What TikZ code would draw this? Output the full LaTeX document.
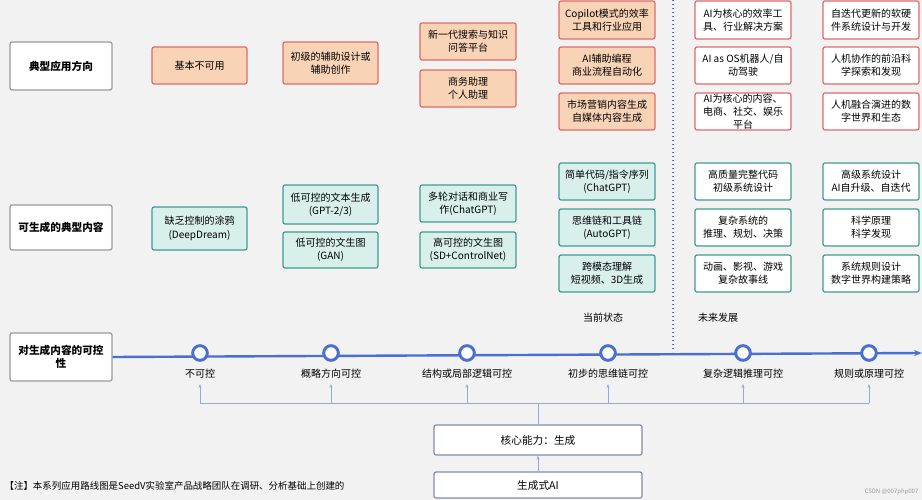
\documentclass[tikz,border=0pt]{standalone}
\usepackage{fontspec}
\setmainfont{Noto Sans CJK SC}
\usetikzlibrary{arrows.meta}
\definecolor{bg}{HTML}{F2F2F2}
\definecolor{og}{HTML}{F8D3B6}
\definecolor{rd}{HTML}{E06A6A}
\definecolor{tl}{HTML}{D8EFEC}
\definecolor{tb}{HTML}{3E9C92}
\definecolor{bl}{HTML}{4A6FD0}
\definecolor{gr}{HTML}{9A9A9A}
\begin{document}
\begin{tikzpicture}[x=0.75pt,y=-0.75pt,
 bx/.style={draw,rounded corners=1.5pt,line width=0.9pt,align=center,inner sep=0pt,font=\fontsize{7.5}{10}\selectfont},
 ob/.style={bx,fill=og,draw=rd},
 wr/.style={bx,fill=white,draw=rd},
 tt/.style={bx,fill=tl,draw=tb},
 wt/.style={bx,fill=white,draw=tb},
 lb/.style={bx,fill=white,draw=gr,font=\fontsize{8}{10}\selectfont\bfseries},
 cb/.style={bx,fill=white,draw=gr!70!bl,font=\fontsize{8}{10}\selectfont},
 ms/.style={circle,draw=bl,fill=white,line width=2.2pt,minimum size=11pt,inner sep=0pt},
 tx/.style={font=\fontsize{7.5}{10}\selectfont,inner sep=1pt},
 ar/.style={-{Stealth[length=3pt]},draw=bl!60,line width=0.5pt}]
\fill[bg] (0,0) rectangle (922,500);
\useasboundingbox (0,0) rectangle (922,500);
\def\B#1#2#3#4#5#6#7{\node[#2,minimum width={(#5-#3)*0.75pt},minimum height={(#6-#4)*0.75pt}] (#1) at ({(#3+#5)/2},{(#4+#6)/2}) {#7};}
\B{l1}{lb}{10}{42}{112}{90}{典型应用方向}
\B{l2}{lb}{10}{205}{112}{250}{可生成的典型内容}
\B{l3}{lb}{10}{333}{112}{381}{对生成内容的可控\\性}
% row 1
\B{a1}{ob}{152}{47}{247}{84}{基本不可用}
\B{a2}{ob}{283}{42}{378}{84}{初级的辅助设计或\\辅助创作}
\B{a3}{ob}{420}{23}{516}{60}{新一代搜索与知识\\问答平台}
\B{a4}{ob}{420}{70}{516}{107}{商务助理\\个人助理}
\B{a5}{ob}{559}{1}{655}{39}{Copilot模式的效率\\工具和行业应用}
\B{a6}{ob}{559}{47}{655}{84}{AI辅助编程\\商业流程自动化}
\B{a7}{ob}{559}{93}{655}{130}{市场营销内容生成\\自媒体内容生成}
\B{a8}{wr}{695}{1}{791}{39}{AI为核心的效率工\\具、行业解决方案}
\B{a9}{wr}{695}{47}{791}{84}{AI as OS机器人/自\\动驾驶}
\B{a10}{wr}{695}{93}{791}{130}{AI为核心的内容、\\电商、社交、娱乐\\平台}
\B{a11}{wr}{823}{1}{919}{39}{自迭代更新的软硬\\件系统设计与开发}
\B{a12}{wr}{823}{47}{919}{84}{人机协作的前沿科\\学探索和发现}
\B{a13}{wr}{823}{93}{919}{130}{人机融合演进的数\\字世界和生态}
% row 2
\B{b1}{tt}{152}{207}{247}{250}{缺乏控制的涂鸦\\(DeepDream)}
\B{b2}{tt}{283}{185}{378}{224}{低可控的文本生成\\(GPT-2/3)}
\B{b3}{tt}{283}{232}{378}{268}{低可控的文生图\\(GAN)}
\B{b4}{tt}{420}{185}{516}{222}{多轮对话和商业写\\作(ChatGPT)}
\B{b5}{tt}{420}{232}{516}{268}{高可控的文生图\\(SD+ControlNet)}
\B{b6}{tt}{559}{163}{655}{200}{简单代码/指令序列\\(ChatGPT)}
\B{b7}{tt}{559}{209}{655}{246}{思维链和工具链\\(AutoGPT)}
\B{b8}{tt}{559}{255}{655}{292}{跨模态理解\\短视频、3D生成}
\B{b9}{wt}{695}{163}{791}{200}{高质量完整代码\\初级系统设计}
\B{b10}{wt}{695}{209}{791}{246}{复杂系统的\\推理、规划、决策}
\B{b11}{wt}{695}{255}{791}{292}{动画、影视、游戏\\复杂故事线}
\B{b12}{wt}{823}{163}{919}{200}{高级系统设计\\AI自升级、自迭代}
\B{b13}{wt}{823}{209}{919}{246}{科学原理\\科学发现}
\B{b14}{wt}{823}{255}{919}{292}{系统规则设计\\数字世界构建策略}
% divider
\coordinate (d0) at (673,0); \coordinate (d1) at (673,352);
\draw[bl,line width=1pt,dash pattern=on 1pt off 2pt] (d0) -- (d1);
\node[tx] (cur) at (603,318) {当前状态};
\node[tx] (fut) at (718,318) {未来发展};
% timeline
\coordinate (te) at (922,353);
\draw[bl,line width=1.8pt,-{Stealth[length=6pt]}] (l3.east) -- (te);
\foreach \n/\x/\t in {1/200/不可控,2/331/概略方向可控,3/467/结构或局部逻辑可控,4/608/初步的思维链可控,5/743/复杂逻辑推理可控,6/869/规则或原理可控}{
 \node[ms] (m\n) at (\x,353) {};
 \node[tx] (t\n) at (\x,374) {\t};
 \coordinate (h\n) at (\x,403);
 \draw[ar] (h\n) -- (\x,384);
}
\draw[bl!60,line width=0.5pt] (h1) -- (h6);
\B{core}{cb}{434}{425}{642}{455}{核心能力：生成}
\B{gen}{cb}{434}{472}{642}{498}{生成式AI}
\draw[bl!60,line width=0.5pt] (core.north) -- (core.north |- h1);
\draw[ar] (gen.north) -- (core.south);
\node[tx,anchor=west,font=\fontsize{7.1}{9}\selectfont] (note) at (3,486) {【注】本系列应用路线图是SeedV实验室产品战略团队在调研、分析基础上创建的};
\node[tx,anchor=east,text=gr,font=\fontsize{4.5}{6}\selectfont] (csdn) at (920,492) {CSDN @007php007};
\end{tikzpicture}
\end{document}
